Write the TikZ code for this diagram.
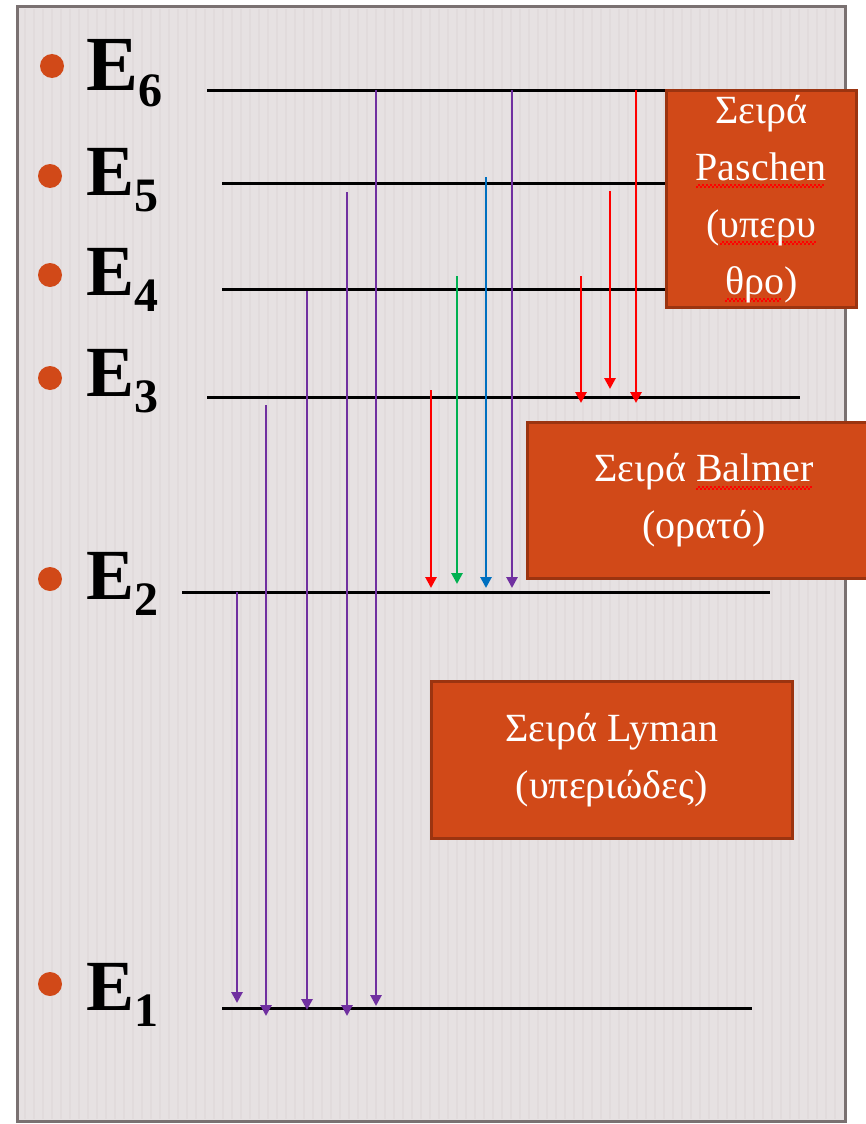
\documentclass[tikz,border=0pt]{standalone}
\usepackage{fontspec}
\setmainfont{Liberation Serif}
\usetikzlibrary{arrows.meta}

\definecolor{slide}{HTML}{E6E1E2}
\definecolor{stripe}{HTML}{DDD7D8}
\definecolor{rim}{HTML}{7A7171}
\definecolor{rust}{HTML}{D14918}
\definecolor{rustdark}{HTML}{9B3410}
\definecolor{violet}{HTML}{7030A0}
\definecolor{vivid}{HTML}{FF0000}
\definecolor{leaf}{HTML}{00B050}
\definecolor{sky}{HTML}{0070C0}

\newsavebox\typobox
\newcommand\typo[1]{\leavevmode\sbox\typobox{#1}\rlap{\color{vivid}\raisebox{-8pt}[0pt][0pt]{\hbox to \wd\typobox{\leaders\hbox{\rule{2pt}{2pt}\rule[2pt]{2pt}{2pt}}\hfill}}}\usebox\typobox}
\newcommand\lvl[1]{E\raisebox{-16pt}{\fontsize{48}{48}\selectfont #1}}

\tikzset{
  level/.style={line width=3pt, black},
  jump/.style={line width=2.8pt, -{Triangle[width=11pt,length=11pt]}},
  series/.style={fill=rust, draw=rustdark, line width=2.5pt, text=white, align=center,
    inner sep=0pt, anchor=north west, font=\fontsize{40}{57}\selectfont},
  dot/.style={circle, fill=rust, inner sep=0pt, minimum size=24pt},
  energy/.style={anchor=base west, inner sep=0pt, font=\fontsize{72}{72}\selectfont\bfseries}
}

\begin{document}
\begin{tikzpicture}[x=1pt,y=-1pt]
  \useasboundingbox (0,0) rectangle (866,1124);
  \clip (0,0) rectangle (866,1124);
  \fill[slide] (17,7) rectangle (845,1121);
  \foreach \x in {24,33,...,840}
    \fill[stripe, opacity=0.5] (\x,9) rectangle ++(2,1110);
  \draw[rim, line width=3pt] (17,7) rectangle (845,1121);

  % energy levels
  \coordinate (e6l) at (207,90);   \coordinate (e6r) at (665,90);
  \coordinate (e5l) at (222,183);  \coordinate (e5r) at (665,183);
  \coordinate (e4l) at (222,289);  \coordinate (e4r) at (665,289);
  \coordinate (e3l) at (207,397);  \coordinate (e3r) at (800,397);
  \coordinate (e2l) at (182,592);  \coordinate (e2r) at (770,592);
  \coordinate (e1l) at (222,1008); \coordinate (e1r) at (752,1008);
  \draw[level] (e6l) -- (e6r);
  \draw[level] (e5l) -- (e5r);
  \draw[level] (e4l) -- (e4r);
  \draw[level] (e3l) -- (e3r);
  \draw[level] (e2l) -- (e2r);
  \draw[level] (e1l) -- (e1r);

  % Lyman
  \foreach \x/\ya/\yb [count=\i] in {237/592/1003, 266/405/1016, 307/291/1010, 347/192/1016, 376/90/1006} {
    \coordinate (ly\i) at (\x,\ya);
    \coordinate (lyt\i) at (\x,\yb);
    \draw[jump, violet] (ly\i) -- (lyt\i);
  }
  % Balmer
  \foreach \x/\ya/\yb/\c [count=\i] in {431/390/588/vivid, 457/276/584/leaf, 486/177/588/sky, 512/90/588/violet} {
    \coordinate (ba\i) at (\x,\ya);
    \coordinate (bat\i) at (\x,\yb);
    \draw[jump, \c] (ba\i) -- (bat\i);
  }
  % Paschen
  \foreach \x/\ya/\yb [count=\i] in {581/276/403, 610/191/389, 636/90/403} {
    \coordinate (pa\i) at (\x,\ya);
    \coordinate (pat\i) at (\x,\yb);
    \draw[jump, vivid] (pa\i) -- (pat\i);
  }

  \node[series, minimum width=190pt, minimum height=217pt] (paschen) at (665,89)
    {Σειρά\\\typo{Paschen}\\(\typo{υπερυ}\\\typo{θρο})};
  \node[series, minimum width=354pt, minimum height=156pt] (balmer) at (526,421)
    {Σειρά \typo{Balmer}\\(ορατό)};
  \node[series, minimum width=361pt, minimum height=157pt] (lyman) at (430,680)
    {Σειρά Lyman\\(υπεριώδες)};

  \node[dot] (b6) at (52,66) {};
  \node[dot] (b5) at (50,176) {};
  \node[dot] (b4) at (50,275) {};
  \node[dot] (b3) at (50,378) {};
  \node[dot] (b2) at (50,579) {};
  \node[dot] (b1) at (50,984) {};
  \node[energy, font=\fontsize{78}{78}\selectfont\bfseries] (n6) at (86,90) {\lvl6};
  \node[energy] (n5) at (86,195) {\lvl5};
  \node[energy] (n4) at (86,295) {\lvl4};
  \node[energy] (n3) at (86,396) {\lvl3};
  \node[energy] (n2) at (86,599) {\lvl2};
  \node[energy] (n1) at (86,1010) {\lvl1};
\end{tikzpicture}
\end{document}
